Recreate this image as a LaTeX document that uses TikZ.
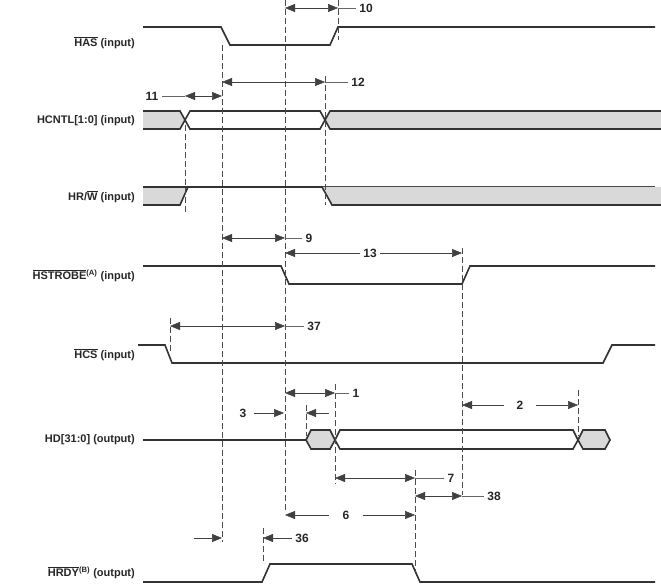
\documentclass[tikz,border=0pt]{standalone}
\usepackage{fontspec}
\setmainfont{Liberation Sans}
\usetikzlibrary{arrows.meta}
\begin{document}
\begin{tikzpicture}[x=1pt, y=-1pt,
    sig/.style={line width=1.6pt, color=black!80},
    bus/.style={line width=1.6pt, color=black!80, fill=black!15},
    guide/.style={dashed, color=black!70, line width=0.5pt, dash pattern=on 6pt off 3pt},
    meas/.style={{Triangle[length=10pt,width=8pt]}-{Triangle[length=10pt,width=8pt]}, color=black!75, line width=0.5pt},
    rarr/.style={-{Triangle[length=10pt,width=8pt]}, color=black!75, line width=0.5pt},
    lead/.style={color=black!60, line width=0.5pt},
    signame/.style={anchor=east, inner xsep=1pt, font=\bfseries\fontsize{11}{13}\selectfont, color=black!85},
    num/.style={font=\bfseries\fontsize{12}{14}\selectfont, color=black!85}]
    \useasboundingbox (0,0) rectangle (661,585);
    % Signal names
    \node[signame] (nHAS)  at (136,43)  {$\overline{\mbox{HAS}}$ (input)};
    \node[signame] (nCNTL) at (136,121) {HCNTL[1:0] (input)};
    \node[signame] (nRW)   at (136,197) {HR/$\overline{\mbox{W}}$ (input)};
    \node[signame] (nSTB)  at (136,276) {$\overline{\mbox{HSTROBE}}$\textsuperscript{(A)} (input)};
    \node[signame] (nHCS)  at (136,355) {$\overline{\mbox{HCS}}$ (input)};
    \node[signame] (nHD)   at (136,440) {HD[31:0] (output)};
    \node[signame] (nRDY)  at (136,573) {$\overline{\mbox{HRDY}}$\textsuperscript{(B)} (output)};
    % Waveforms
    \draw[sig] (143,27) -- (221,27) -- (230,45) -- (330,45) -- (338,27) -- (655,27);
    \draw[bus] (143,111) -- (180,111) -- (185,120) -- (180,129) -- (143,129);
    \draw[sig, fill=white] (185,120) -- (190,111) -- (320,111) -- (325,120) -- (320,129) -- (190,129) -- cycle;
    \draw[bus] (661,111) -- (330,111) -- (325,120) -- (330,129) -- (661,129);
    \fill[black!15] (143,187) -- (188,187) -- (180,205) -- (143,205) -- cycle;
    \draw[sig] (143,187) -- (655,187);
    \draw[sig] (143,205) -- (180,205) -- (188,187);
    \fill[black!15] (322,187) -- (661,187) -- (661,205) -- (332,205) -- cycle;
    \draw[sig] (322,187) -- (332,205) -- (661,205);
    \draw[sig] (143,266) -- (281,266) -- (289,284) -- (462,284) -- (470,266) -- (655,266);
    \draw[sig] (138,345) -- (165,345) -- (172,363) -- (603,363) -- (612,345) -- (655,345);
    \draw[sig] (143,440) -- (306,440);
    \draw[bus] (306,440) -- (311,430) -- (330,430) -- (335,440) -- (330,449) -- (311,449) -- cycle;
    \draw[sig, fill=white] (335,440) -- (340,430) -- (573,430) -- (578,440) -- (573,449) -- (340,449) -- cycle;
    \draw[bus] (578,440) -- (583,430) -- (605,430) -- (610,440) -- (605,449) -- (583,449) -- cycle;
    \draw[sig] (143,582) -- (262,582) -- (270,564) -- (412,564) -- (420,582) -- (655,582);
    % Guides
    \draw[guide] (222,45) -- (222,542);
    \draw[guide] (285,0) -- (285,512);
    \draw[guide] (185,125) -- (185,212);
    \draw[guide] (338,0) -- (338,40);
    \draw[guide] (325,76) -- (325,205);
    \draw[guide] (462,248) -- (462,495);
    \draw[guide] (170,318) -- (170,352);
    \draw[guide] (306,405) -- (306,436);
    \draw[guide] (335,384) -- (335,484);
    \draw[guide] (578,390) -- (578,436);
    \draw[guide] (415,470) -- (415,572);
    \draw[guide] (263,528) -- (263,562);
    % Measures
    \coordinate (a10) at (285,8);  \coordinate (b10) at (338,8);
    \draw[meas] (a10) -- (b10);
    \node[num] (t10) at (366,8) {10};
    \draw[lead] (b10) -- (t10.west);
    \coordinate (a12) at (222,82); \coordinate (b12) at (325,82);
    \draw[meas] (a12) -- (b12);
    \node[num] (t12) at (358,82) {12};
    \draw[lead] (b12) -- (t12.west);
    \coordinate (a11) at (185,96); \coordinate (b11) at (222,96);
    \node[num] (t11) at (152,96) {11};
    \draw[lead] (t11.east) -- (a11);
    \draw[meas] (a11) -- (b11);
    \coordinate (a9) at (222,238); \coordinate (b9) at (285,238);
    \draw[meas] (a9) -- (b9);
    \node[num] (t9) at (309,238) {9};
    \draw[lead] (b9) -- (t9.west);
    \coordinate (a13) at (285,253); \coordinate (b13) at (462,253);
    \node[num] (t13) at (370,253) {13};
    \draw[rarr] (t13.west) -- (a13);
    \draw[rarr] (t13.east) -- (b13);
    \coordinate (a37) at (170,326); \coordinate (b37) at (285,326);
    \draw[meas] (a37) -- (b37);
    \node[num] (t37) at (314,326) {37};
    \draw[lead] (b37) -- (t37.west);
    \coordinate (a1) at (285,393); \coordinate (b1) at (335,393);
    \draw[meas] (a1) -- (b1);
    \node[num] (t1) at (356,393) {1};
    \draw[lead] (b1) -- (t1.west);
    \coordinate (b3) at (284,413); \coordinate (c3) at (306,413);
    \node[num] (t3) at (243,413) {3};
    \draw[rarr] (t3.east) ++(4,0) -- (b3);
    \draw[rarr] (329,413) -- (c3);
    \coordinate (a2) at (462,405); \coordinate (b2) at (578,405);
    \node[num] (t2) at (520,405) {2};
    \draw[rarr] (t2.west) ++(-9,0) -- (a2);
    \draw[rarr] (t2.east) ++(9,0) -- (b2);
    \coordinate (a7) at (335,478); \coordinate (b7) at (415,478);
    \draw[meas] (a7) -- (b7);
    \node[num] (t7) at (451,478) {7};
    \draw[lead] (b7) -- (t7.west);
    \coordinate (a38) at (415,496); \coordinate (b38) at (462,496);
    \draw[meas] (a38) -- (b38);
    \node[num] (t38) at (494,496) {38};
    \draw[lead] (b38) -- (t38.west);
    \coordinate (a6) at (285,515); \coordinate (b6) at (415,515);
    \node[num] (t6) at (346,515) {6};
    \draw[rarr] (t6.west) ++(-10,0) -- (a6);
    \draw[rarr] (t6.east) ++(10,0) -- (b6);
    \coordinate (a36) at (222,538); \coordinate (b36) at (263,538);
    \draw[rarr] (194,538) -- (a36);
    \node[num] (t36) at (302,538) {36};
    \draw[rarr] (t36.west) -- (b36);
\end{tikzpicture}
\end{document}
